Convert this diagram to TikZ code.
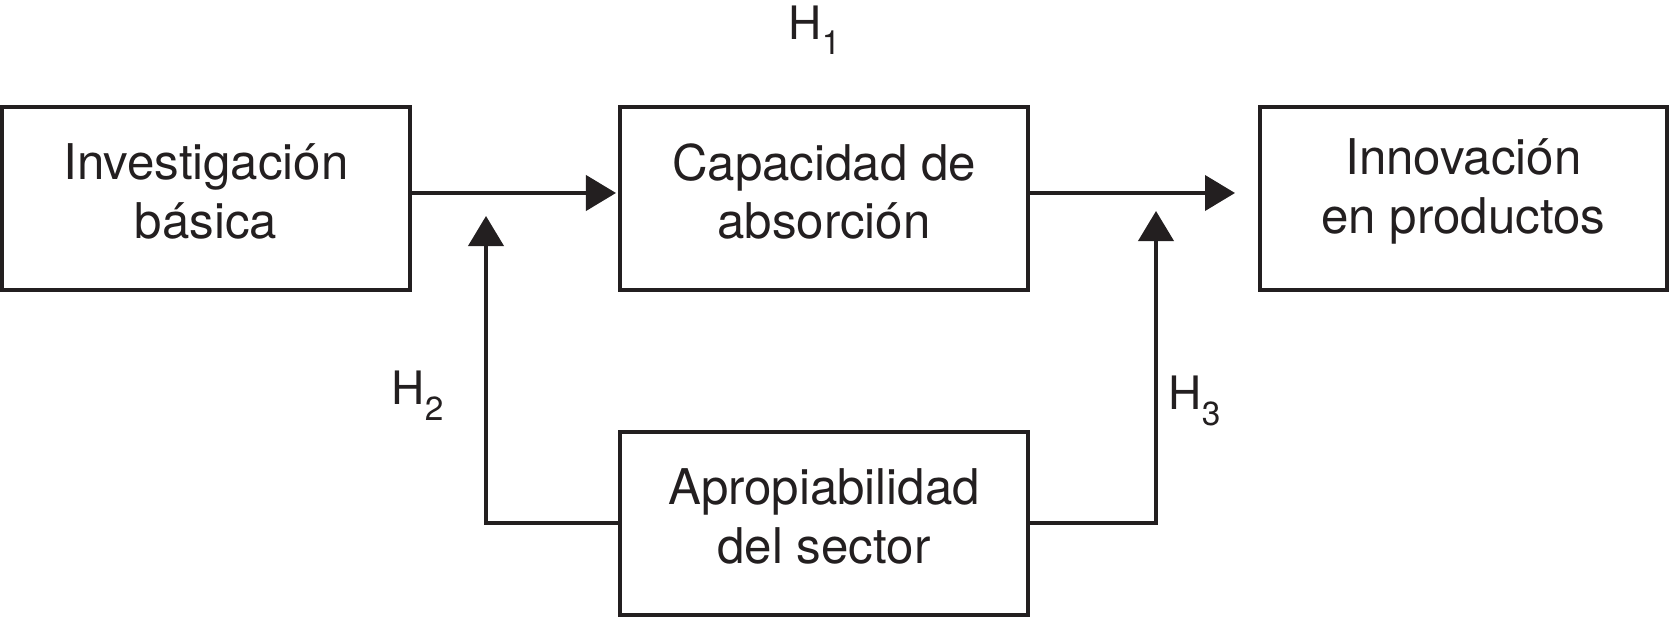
\documentclass[tikz,border=0pt]{standalone}
\usepackage{fontspec}
\setmainfont{TeX Gyre Heros}
\usetikzlibrary{arrows.meta}
\definecolor{ink}{RGB}{35,31,32}
\newcommand{\hsub}[1]{H\raisebox{-0.15cm}{\fontsize{9.5pt}{10pt}\selectfont #1}}
\tikzset{
  boxnode/.style={draw=ink, line width=0.04cm, inner sep=0pt,
    minimum width=4.07cm, minimum height=1.83cm},
  boxtext/.style={inner sep=0pt, align=center, text=ink, yshift=0.07cm,
    font=\fontsize{14pt}{16.6pt}\selectfont},
  conn/.style={draw=ink, line width=0.04cm, -{Triangle[length=0.3cm,width=0.35cm]}},
  hlabel/.style={inner sep=0pt, text=ink, font=\fontsize{13.1pt}{16pt}\selectfont, anchor=base west}
}
\begin{document}
\begin{tikzpicture}[x=0.01cm, y=-0.01cm]
\useasboundingbox (0,0) rectangle (1670,619);
\node[boxnode, minimum width=4.08cm, label={[boxtext]center:Investigación\\básica}] (inv) at (206,198.5) {};
\node[boxnode, label={[boxtext]center:Capacidad de\\absorción}] (cap) at (824,198.5) {};
\node[boxnode, label={[boxtext]center:Innovación\\en productos}] (inn) at (1463.5,198.5) {};
\node[boxnode, label={[boxtext]center:Apropiabilidad\\del sector}] (apr) at (824,523.5) {};
\coordinate (t1) at (616,193);
\coordinate (t4) at (1235,193);
\coordinate (t2) at (486,216);
\coordinate (t3) at (1156,211);
\draw[conn] (inv.east |- t1) -- (t1);
\draw[conn] (cap.east |- t4) -- (t4);
\draw[conn] (apr.west) -| (t2);
\draw[conn] (apr.east) -| (t3);
\node[hlabel] (h1) at (788,40) {\hsub{1}};
\node[hlabel] (h2) at (391,405) {\hsub{2}};
\node[hlabel] (h3) at (1168,410) {\hsub{3}};
\end{tikzpicture}
\end{document}
